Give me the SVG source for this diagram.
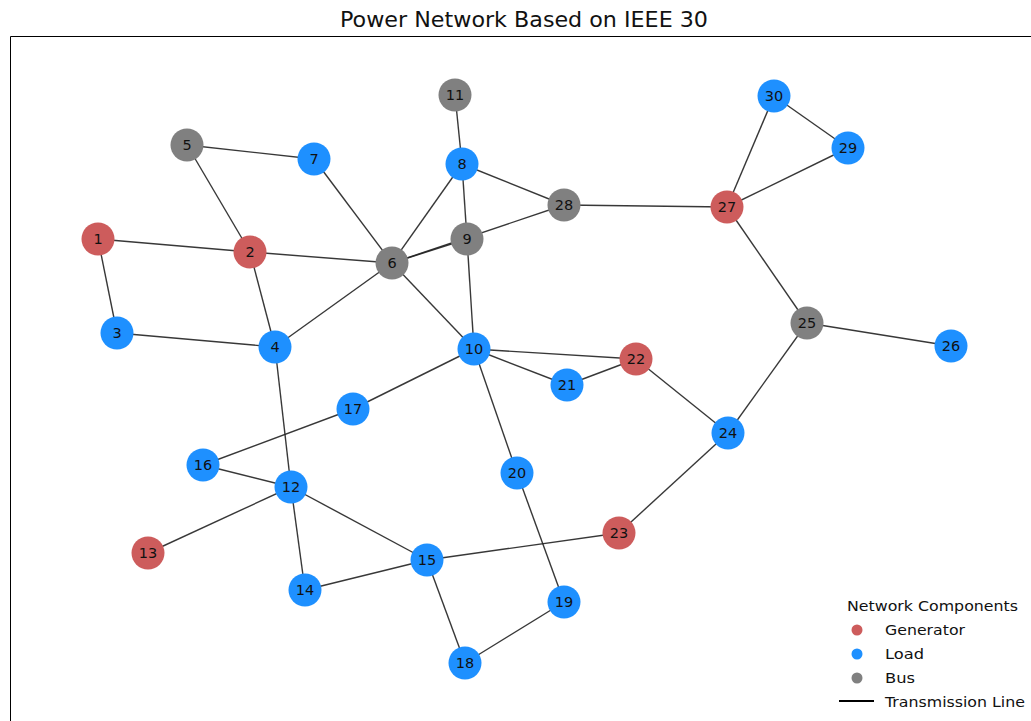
<svg xmlns="http://www.w3.org/2000/svg" width="1031" height="721" viewBox="0 0 1031 721">
<style>
.e{stroke:#222;stroke-width:1.4;stroke-opacity:0.9;fill:none}
.g{fill:#CD5C5C}.l{fill:#1E90FF}.b{fill:#808080}
.t{font-family:"DejaVu Sans",sans-serif;font-size:14.5px;fill:#111;text-anchor:middle;dominant-baseline:central}
.lg{font-family:"DejaVu Sans",sans-serif;font-size:14px;fill:#111}
</style>
<rect width="1031" height="721" fill="#fff"/>
<text x="340" y="27" font-family="DejaVu Sans, sans-serif" font-size="21" fill="#111" textLength="368" lengthAdjust="spacingAndGlyphs">Power Network Based on IEEE 30</text>
<path d="M10.5,721 V36.5 H1031" fill="none" stroke="#000" stroke-width="1"/>
<g id="connectors">
<line class="e" x1="98" y1="239" x2="250" y2="252"/>
<line class="e" x1="98" y1="239" x2="117" y2="333"/>
<line class="e" x1="250" y1="252" x2="187" y2="145"/>
<line class="e" x1="250" y1="252" x2="392" y2="263"/>
<line class="e" x1="250" y1="252" x2="275" y2="347"/>
<line class="e" x1="117" y1="333" x2="275" y2="347"/>
<line class="e" x1="275" y1="347" x2="392" y2="263"/>
<line class="e" x1="275" y1="347" x2="291" y2="487"/>
<line class="e" x1="187" y1="145" x2="314" y2="159"/>
<line class="e" x1="314" y1="159" x2="392" y2="263"/>
<line class="e" x1="392" y1="263" x2="462" y2="164"/>
<line class="e" x1="392" y1="263" x2="467" y2="239"/>
<line class="e" x1="392" y1="263" x2="564" y2="205"/>
<line class="e" x1="392" y1="263" x2="474" y2="349"/>
<line class="e" x1="462" y1="164" x2="455" y2="95"/>
<line class="e" x1="462" y1="164" x2="467" y2="239"/>
<line class="e" x1="462" y1="164" x2="564" y2="205"/>
<line class="e" x1="467" y1="239" x2="474" y2="349"/>
<line class="e" x1="474" y1="349" x2="636" y2="359"/>
<line class="e" x1="474" y1="349" x2="567" y2="385"/>
<line class="e" x1="474" y1="349" x2="517" y2="473"/>
<line class="e" x1="474" y1="349" x2="353" y2="409"/>
<line class="e" x1="567" y1="385" x2="636" y2="359"/>
<line class="e" x1="636" y1="359" x2="728" y2="433"/>
<line class="e" x1="353" y1="409" x2="203" y2="465"/>
<line class="e" x1="203" y1="465" x2="291" y2="487"/>
<line class="e" x1="291" y1="487" x2="148" y2="553"/>
<line class="e" x1="291" y1="487" x2="305" y2="590"/>
<line class="e" x1="291" y1="487" x2="427" y2="560"/>
<line class="e" x1="305" y1="590" x2="427" y2="560"/>
<line class="e" x1="427" y1="560" x2="465" y2="663"/>
<line class="e" x1="427" y1="560" x2="619" y2="533"/>
<line class="e" x1="465" y1="663" x2="564" y2="602"/>
<line class="e" x1="564" y1="602" x2="517" y2="473"/>
<line class="e" x1="619" y1="533" x2="728" y2="433"/>
<line class="e" x1="728" y1="433" x2="807" y2="323"/>
<line class="e" x1="807" y1="323" x2="951" y2="346"/>
<line class="e" x1="807" y1="323" x2="727" y2="207"/>
<line class="e" x1="727" y1="207" x2="564" y2="205"/>
<line class="e" x1="727" y1="207" x2="848" y2="148"/>
<line class="e" x1="727" y1="207" x2="774" y2="96"/>
<line class="e" x1="848" y1="148" x2="774" y2="96"/>
</g>
<g id="n1"><circle class="g" cx="98" cy="239" r="16.5"/><text class="t" x="98" y="239">1</text></g>
<g id="n2"><circle class="g" cx="250" cy="252" r="16.5"/><text class="t" x="250" y="252">2</text></g>
<g id="n3"><circle class="l" cx="117" cy="333" r="16.5"/><text class="t" x="117" y="333">3</text></g>
<g id="n4"><circle class="l" cx="275" cy="347" r="16.5"/><text class="t" x="275" y="347">4</text></g>
<g id="n5"><circle class="b" cx="187" cy="145" r="16.5"/><text class="t" x="187" y="145">5</text></g>
<g id="n6"><circle class="b" cx="392" cy="263" r="16.5"/><text class="t" x="392" y="263">6</text></g>
<g id="n7"><circle class="l" cx="314" cy="159" r="16.5"/><text class="t" x="314" y="159">7</text></g>
<g id="n8"><circle class="l" cx="462" cy="164" r="16.5"/><text class="t" x="462" y="164">8</text></g>
<g id="n9"><circle class="b" cx="467" cy="239" r="16.5"/><text class="t" x="467" y="239">9</text></g>
<g id="n10"><circle class="l" cx="474" cy="349" r="16.5"/><text class="t" x="474" y="349">10</text></g>
<g id="n11"><circle class="b" cx="455" cy="95" r="16.5"/><text class="t" x="455" y="95">11</text></g>
<g id="n12"><circle class="l" cx="291" cy="487" r="16.5"/><text class="t" x="291" y="487">12</text></g>
<g id="n13"><circle class="g" cx="148" cy="553" r="16.5"/><text class="t" x="148" y="553">13</text></g>
<g id="n14"><circle class="l" cx="305" cy="590" r="16.5"/><text class="t" x="305" y="590">14</text></g>
<g id="n15"><circle class="l" cx="427" cy="560" r="16.5"/><text class="t" x="427" y="560">15</text></g>
<g id="n16"><circle class="l" cx="203" cy="465" r="16.5"/><text class="t" x="203" y="465">16</text></g>
<g id="n17"><circle class="l" cx="353" cy="409" r="16.5"/><text class="t" x="353" y="409">17</text></g>
<g id="n18"><circle class="l" cx="465" cy="663" r="16.5"/><text class="t" x="465" y="663">18</text></g>
<g id="n19"><circle class="l" cx="564" cy="602" r="16.5"/><text class="t" x="564" y="602">19</text></g>
<g id="n20"><circle class="l" cx="517" cy="473" r="16.5"/><text class="t" x="517" y="473">20</text></g>
<g id="n21"><circle class="l" cx="567" cy="385" r="16.5"/><text class="t" x="567" y="385">21</text></g>
<g id="n22"><circle class="g" cx="636" cy="359" r="16.5"/><text class="t" x="636" y="359">22</text></g>
<g id="n23"><circle class="g" cx="619" cy="533" r="16.5"/><text class="t" x="619" y="533">23</text></g>
<g id="n24"><circle class="l" cx="728" cy="433" r="16.5"/><text class="t" x="728" y="433">24</text></g>
<g id="n25"><circle class="b" cx="807" cy="323" r="16.5"/><text class="t" x="807" y="323">25</text></g>
<g id="n26"><circle class="l" cx="951" cy="346" r="16.5"/><text class="t" x="951" y="346">26</text></g>
<g id="n27"><circle class="g" cx="727" cy="207" r="16.5"/><text class="t" x="727" y="207">27</text></g>
<g id="n28"><circle class="b" cx="564" cy="205" r="16.5"/><text class="t" x="564" y="205">28</text></g>
<g id="n29"><circle class="l" cx="848" cy="148" r="16.5"/><text class="t" x="848" y="148">29</text></g>
<g id="n30"><circle class="l" cx="774" cy="96" r="16.5"/><text class="t" x="774" y="96">30</text></g>
<g id="legend">
<text class="lg" x="847" y="611" textLength="171" lengthAdjust="spacingAndGlyphs">Network Components</text>
<circle class="g" cx="857" cy="630" r="5.5"/><text class="lg" x="885" y="635" textLength="80" lengthAdjust="spacingAndGlyphs">Generator</text>
<circle class="l" cx="857" cy="654" r="5.5"/><text class="lg" x="885" y="659" textLength="39" lengthAdjust="spacingAndGlyphs">Load</text>
<circle class="b" cx="857" cy="678" r="5.5"/><text class="lg" x="885" y="683" textLength="30" lengthAdjust="spacingAndGlyphs">Bus</text>
<line x1="839" y1="701" x2="874" y2="701" stroke="#000" stroke-width="2"/><text class="lg" x="885" y="707" textLength="140" lengthAdjust="spacingAndGlyphs">Transmission Line</text>
</g>
</svg>
